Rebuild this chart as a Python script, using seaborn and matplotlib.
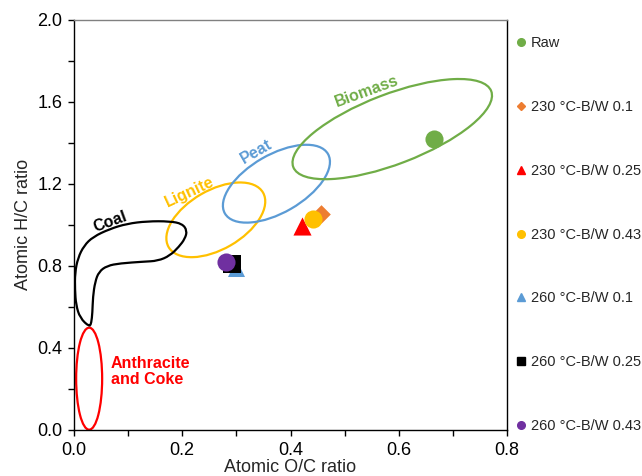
import matplotlib
matplotlib.use("Agg")
import matplotlib.pyplot as plt
import matplotlib.transforms as mtransforms
from matplotlib.patches import Ellipse, PathPatch
from matplotlib.path import Path
from matplotlib.lines import Line2D
import seaborn as sns
import pandas as pd

# sample data
samples = ["Raw", "230 °C-B/W 0.1", "230 °C-B/W 0.25", "230 °C-B/W 0.43",
           "260 °C-B/W 0.1", "260 °C-B/W 0.25", "260 °C-B/W 0.43"]
oc_ratio = [0.665, 0.456, 0.421, 0.441, 0.300, 0.292, 0.281]
hc_ratio = [1.42, 1.05, 0.995, 1.03, 0.79, 0.81, 0.82]
colors = ["#70AD47", "#ED7D31", "#FF0000", "#FFC000", "#5B9BD5", "#000000", "#7030A0"]
markers = ["o", "D", "^", "o", "^", "s", "o"]
sizes = [170, 90, 170, 170, 150, 150, 170]

# fuel regions: (label, colour, centre x, centre y, width px, height px, angle deg)
regions = [
    ("Anthracite", "#FF0000", 0.028, 0.25, 26, 102, 0),
    ("Lignite", "#FFC000", 0.262, 1.024, 109, 59, 30),
    ("Peat", "#5B9BD5", 0.374, 1.20, 119, 58, 30),
    ("Biomass", "#70AD47", 0.588, 1.466, 212, 70, 21),
]
# coal outline control points (closed)
coal_x = [0.0287, 0.0111, 0.0037, 0.0018, 0.0018, 0.0074, 0.0185, 0.0351, 0.0665,
          0.098, 0.135, 0.177, 0.200, 0.209, 0.205, 0.194, 0.177, 0.155, 0.128,
          0.085, 0.061, 0.046, 0.039, 0.035, 0.034, 0.032]
coal_y = [0.502, 0.546, 0.610, 0.683, 0.766, 0.839, 0.898, 0.941, 0.980,
          1.005, 1.017, 1.017, 1.005, 0.971, 0.932, 0.893, 0.849, 0.824, 0.820,
          0.812, 0.800, 0.771, 0.722, 0.649, 0.571, 0.522]

# region labels: text, colour, x, y, rotation
label_text = ["Coal", "Lignite", "Peat", "Biomass"]
label_color = ["#000000", "#FFC000", "#5B9BD5", "#70AD47"]
label_x = [0.067, 0.214, 0.336, 0.541]
label_y = [1.015, 1.16, 1.356, 1.65]
label_rot = [20, 25, 30, 20]

sns.set_style("ticks")
plt.rcParams["font.family"] = ["Liberation Sans", "DejaVu Sans"]

fig = plt.figure(figsize=(6.42, 4.76), dpi=100)
ax = fig.add_axes([74 / 642, 1 - 430 / 476, (507 - 74) / 642, (430 - 19.5) / 476])

df = pd.DataFrame({"sample": samples, "oc": oc_ratio, "hc": hc_ratio})
for i in range(len(df)):
    sns.scatterplot(data=df.iloc[[i]], x="oc", y="hc", color=colors[i],
                    marker=markers[i], s=sizes[i], linewidth=0, ax=ax,
                    legend=False, zorder=3)

# fuel region outlines
for name, col, cx, cy, w, h, ang in regions:
    tr = fig.dpi_scale_trans + mtransforms.ScaledTranslation(cx, cy, ax.transData)
    ax.add_patch(Ellipse((0, 0), w / 100, h / 100, angle=ang, transform=tr,
                         fill=False, edgecolor=col, linewidth=1.6, zorder=2))

# smooth closed coal outline: quadratic curves through the midpoints
pts = list(zip(coal_x, coal_y))
n = len(pts)
mids = [((pts[k][0] + pts[(k + 1) % n][0]) / 2, (pts[k][1] + pts[(k + 1) % n][1]) / 2)
        for k in range(n)]
verts = [mids[-1]]
codes = [Path.MOVETO]
for k in range(n):
    verts += [pts[k], mids[k]]
    codes += [Path.CURVE3, Path.CURVE3]
ax.add_patch(PathPatch(Path(verts, codes), fill=False, edgecolor="black",
                       linewidth=1.6, zorder=2))

for t, c, x, y, r in zip(label_text, label_color, label_x, label_y, label_rot):
    ax.text(x, y, t, color=c, fontsize=11.5, fontweight="bold", rotation=r,
            rotation_mode="anchor", ha="center", va="center")
ax.text(0.068, 0.285, "Anthracite\nand Coke", color="#FF0000", fontsize=11.5,
        fontweight="bold", ha="left", va="center", linespacing=1.1)

ax.set_xlim(0, 0.8)
ax.set_ylim(0, 2.0)
ax.set_xticks([0, 0.2, 0.4, 0.6, 0.8])
ax.set_xticks([0.1, 0.3, 0.5, 0.7], minor=True)
ax.set_yticks([0, 0.4, 0.8, 1.2, 1.6, 2.0])
ax.set_yticks([0.2, 0.6, 1.0, 1.4, 1.8], minor=True)
ax.set_xticklabels(["0.0", "0.2", "0.4", "0.6", "0.8"])
ax.set_yticklabels(["0.0", "0.4", "0.8", "1.2", "1.6", "2.0"])
ax.tick_params(which="both", direction="out", length=4.5, width=1, colors="black",
               labelsize=13, pad=4)
ax.set_xlabel("Atomic O/C ratio", fontsize=13, labelpad=0)
ax.set_ylabel("Atomic H/C ratio", fontsize=13, labelpad=4)
for sp in ax.spines.values():
    sp.set_color("black")
    sp.set_linewidth(1.0)
ax.spines["top"].set_color("#808080")

handles = [Line2D([], [], linestyle="none", marker=m, color=c, markersize=5.5 if m != "D" else 4.5)
           for m, c in zip(markers, colors)]
fig.legend(handles, samples, loc="upper left", bbox_to_anchor=(517 / 642, 1 - 36 / 476),
           frameon=False, fontsize=10.5, handlelength=0.6, handletextpad=0.35,
           labelspacing=3.42, borderpad=0, borderaxespad=0)

fig.savefig("out.png", dpi=100)
